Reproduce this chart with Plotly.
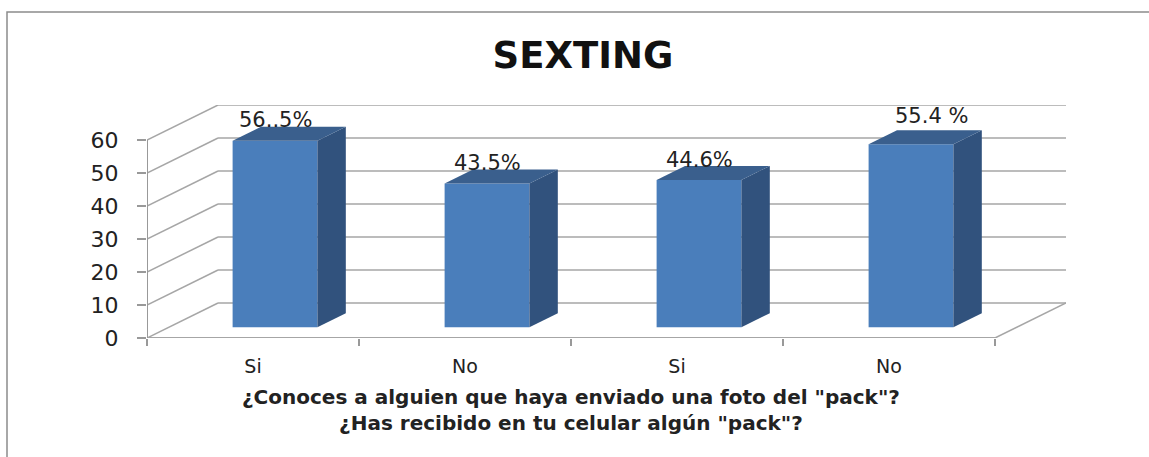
import plotly.graph_objects as go

# ---- data ----
categories = ["Si", "No", "Si", "No"]
values = [56.5, 43.5, 44.6, 55.4]
value_labels = ["56..5%", "43.5%", "44.6%", "55.4 %"]
y_ticks = [0, 10, 20, 30, 40, 50, 60]
title_text = "SEXTING"
axis_title_lines = ['¿Conoces a alguien que haya enviado una foto del "pack"?',
                    '¿Has recibido en tu celular algún "pack"?']

# ---- style / geometry constants ----
W, H = 1149, 457
DX = 0.335      # depth offset in x units
DY = 10.6       # depth offset in y units
F0, F1 = 0.31, 0.71   # bar depth span (fraction of floor depth)
BAR_W = 0.4
FRONT = "#4A7EBB"
SIDE = "#31527D"
TOP = "#3A5F8D"
GRID = "#A6A6A6"
TEXT = "#222222"
label_xshift = [0, 0, 0, 20]
label_yshift = [0, 0, 0, 8]

n = len(categories)
xmin, xmax = -0.5, n - 0.5
ymax = max(y_ticks)

fig = go.Figure()

base = F0 * DY
bar_x = [i + F0 * DX for i in range(n)]
fig.add_trace(go.Bar(
    x=bar_x, y=values, base=[base] * n, width=BAR_W,
    marker=dict(color=FRONT, line=dict(width=0)),
    showlegend=False, hoverinfo="skip",
))
fig.add_trace(go.Scatter(x=[None], y=[None], xaxis="x2", yaxis="y",
                         showlegend=False, hoverinfo="skip"))

shapes = []
for v in y_ticks:
    shapes.append(dict(type="line", xref="x", yref="y", layer="below",
                       x0=xmin + DX, y0=v + DY, x1=xmax + DX, y1=v + DY,
                       line=dict(color=GRID, width=1.5)))
    shapes.append(dict(type="line", xref="x", yref="y", layer="below",
                       x0=xmin, y0=v, x1=xmin + DX, y1=v + DY,
                       line=dict(color=GRID, width=1.5)))
shapes.append(dict(type="line", xref="x", yref="y", layer="below",
                   x0=xmin, y0=0, x1=xmax, y1=0, line=dict(color=GRID, width=2)))
shapes.append(dict(type="line", xref="x", yref="y", layer="below",
                   x0=xmax, y0=0, x1=xmax + DX, y1=DY, line=dict(color=GRID, width=1.5)))
shapes.append(dict(type="line", xref="x", yref="y", layer="below",
                   x0=xmin, y0=0, x1=xmin, y1=ymax, line=dict(color="#999999", width=2)))

dd_x = (F1 - F0) * DX
dd_y = (F1 - F0) * DY
for i, v in enumerate(values):
    xl = bar_x[i] - BAR_W / 2
    xr = bar_x[i] + BAR_W / 2
    top = base + v
    side = f"M{xr},{base} L{xr + dd_x},{base + dd_y} L{xr + dd_x},{top + dd_y} L{xr},{top} Z"
    topf = f"M{xl},{top} L{xr},{top} L{xr + dd_x},{top + dd_y} L{xl + dd_x},{top + dd_y} Z"
    shapes.append(dict(type="path", xref="x", yref="y", path=side,
                       fillcolor=SIDE, line=dict(width=0)))
    shapes.append(dict(type="path", xref="x", yref="y", path=topf,
                       fillcolor=TOP, line=dict(width=0)))

shapes.append(dict(type="rect", xref="paper", yref="paper",
                   x0=7 / W, y0=-0.05, x1=1.05, y1=1 - 12 / H,
                   line=dict(color="#8C8C8C", width=1.5), fillcolor="rgba(0,0,0,0)"))

annotations = []
for i, v in enumerate(values):
    annotations.append(dict(
        x=bar_x[i], y=base + v + 6.2, xref="x", yref="y",
        text=value_labels[i], showarrow=False,
        xshift=label_xshift[i], yshift=label_yshift[i],
        font=dict(family="DejaVu Sans", size=21, color=TEXT),
        xanchor="center", yanchor="middle"))
annotations.append(dict(
    x=(xmin + xmax) / 2, y=1 - 410 / H, xref="x", yref="paper",
    text="<br>".join(axis_title_lines), showarrow=False,
    font=dict(family="DejaVu Sans", size=20, color=TEXT, weight="bold"),
    xanchor="center", yanchor="middle", align="center"))

x_dom = [147 / W, 1066 / W]
y_dom = [(H - 338) / H, (H - 105) / H]

fig.update_layout(
    width=W, height=H,
    margin=dict(l=0, r=0, t=0, b=0, autoexpand=False),
    paper_bgcolor="white", plot_bgcolor="rgba(0,0,0,0)",
    title=dict(text=title_text, x=583 / W, xanchor="center", xref="paper",
               y=1 - 55 / H, yanchor="middle", yref="paper", automargin=False,
               font=dict(family="DejaVu Sans", size=37, color="#111111", weight="bold")),
    xaxis=dict(domain=x_dom, range=[xmin, xmax + DX], tickvals=list(range(n)),
               ticktext=categories, ticks="", showline=False, showgrid=False,
               zeroline=False, ticklabelstandoff=15, automargin=False,
               tickfont=dict(family="DejaVu Sans", size=19, color=TEXT)),
    xaxis2=dict(domain=x_dom, range=[xmin, xmax + DX], overlaying="x", anchor="y",
                side="bottom", tickvals=[xmin + k for k in range(n + 1)],
                ticks="outside", ticklen=7, tickwidth=1.5, tickcolor="#999999",
                showticklabels=False, showline=False, showgrid=False, zeroline=False,
                automargin=False),
    yaxis=dict(domain=y_dom, range=[0, ymax + DY], tickvals=y_ticks,
               ticks="outside", ticklen=9, tickwidth=1.5, tickcolor="#999999",
               showline=False, showgrid=False, zeroline=False, ticklabelstandoff=14,
               automargin=False,
               tickfont=dict(family="DejaVu Sans", size=22, color=TEXT)),
    shapes=shapes, annotations=annotations, showlegend=False,
)

fig.write_html("out.html", config={"displayModeBar": False},
               post_script="document.body.style.margin='0';")
